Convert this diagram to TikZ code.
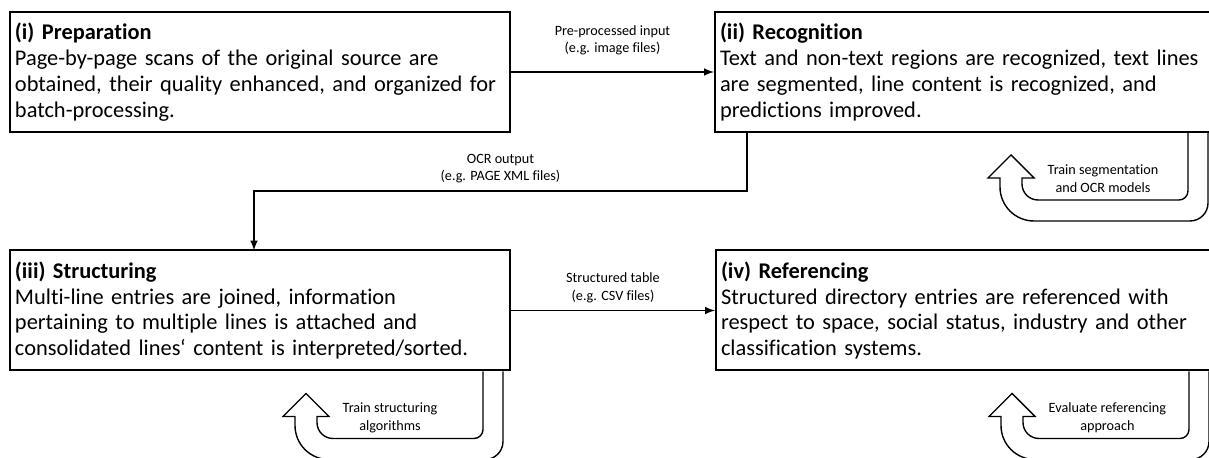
\documentclass[tikz,border=0pt]{standalone}
\usepackage{fontspec}
\setmainfont{Carlito}[Ligatures={TeX,CommonOff}]
\usepackage{tikz}
\tikzset{
block/.style = {draw, line width=1pt, minimum height=60pt, text width=245pt,
                inner sep=2.5pt, align=left,
                font=\fontsize{11.2pt}{12.9pt}\selectfont},
input/.style = {coordinate},
note/.style  = {align=center, inner sep=1pt,
                font=\fontsize{7.1pt}{8.9pt}\selectfont},
loopback/.pic = {
    \draw [line width=0.7pt] (-14pt,0pt) -- (-14pt,-29pt)
        arc [start angle=0, end angle=-90, radius=4.5pt] -- (-89pt,-33.5pt)
        arc [start angle=270, end angle=180, radius=8pt] -- (-97pt,-22.5pt)
        -- (-91pt,-22.5pt) -- (-102.5pt,-11pt) -- (-114pt,-22.5pt)
        -- (-108pt,-22.5pt) -- (-108pt,-27pt)
        arc [start angle=180, end angle=270, radius=17pt] -- (-13pt,-44pt)
        arc [start angle=270, end angle=360, radius=9pt] -- (-4pt,0pt);
    \node [note, anchor=west, inner sep=0pt] (-label) at (-84.5pt,-23pt) {#1};
}
}

\begin{document}
\begin{tikzpicture}[auto, node distance=352.5pt, >=latex, line width=0.7pt]
    \useasboundingbox (-130pt,36pt) rectangle (474.5pt,-193pt);
    \clip (-130pt,36pt) rectangle (474.5pt,-193pt);

    \node [block, name=prep] (prep) {\textbf{(i) Preparation}\\
        Page-by-page scans of the original source are\\
        obtained, their quality enhanced, and organized for\\
        batch-processing.};
    \node [block, name=recog, right of=prep] (recog) {\textbf{(ii) Recognition}\\
        Text and non-text regions are recognized, text lines\\
        are segmented, line content is recognized, and\\
        predictions improved.};
    \node [block, name=struct, below of=prep, node distance=119.25pt] (struct)
    {\textbf{(iii) Structuring}\\
        Multi-line entries are joined, information\\
        pertaining to multiple lines is attached and\\
        consolidated lines‘ content is interpreted/sorted.};
    \node [block, name=refer, right of=struct, node distance=353pt] (refer)
    {\textbf{(iv) Referencing}\\
        Structured directory entries are referenced with\\
        respect to space, social status, industry and other\\
        classification systems.};

    % hand-over between the steps
    \draw [->] (prep) -- node [note, above=7pt] (prepnote)
        {Pre-processed input\\(e.g. image files)} (recog);

    \node [input, name=recbot, below of=recog, node distance=30pt] (recbot) {};
    \node [input, name=ocrs, left of=recbot, node distance=109pt] (ocrs) {};
    \node [input, name=strtop, above of=struct, node distance=30pt] (strtop) {};
    \node [input, name=ocrend, left of=strtop, node distance=3pt] (ocrend) {};
    \draw [->] (ocrs) -- ++(0,-29.5pt) -| node [note, pos=0.25, above=2.5pt] (ocrnote)
        {OCR output\\(e.g. PAGE XML files)} (ocrend);

    \draw [->] (struct) -- node [note, above=2.5pt] (structnote)
        {Structured table\\(e.g. CSV files)} (refer);

    % feedback loops
    \pic (segloop) at (recog.south east) {loopback={Train segmentation\\and OCR models}};
    \pic (strloop) at (struct.south east) {loopback={Train structuring\\algorithms}};
    \pic (refloop) at (refer.south east) {loopback={Evaluate referencing\\approach}};

\end{tikzpicture}
\end{document}
